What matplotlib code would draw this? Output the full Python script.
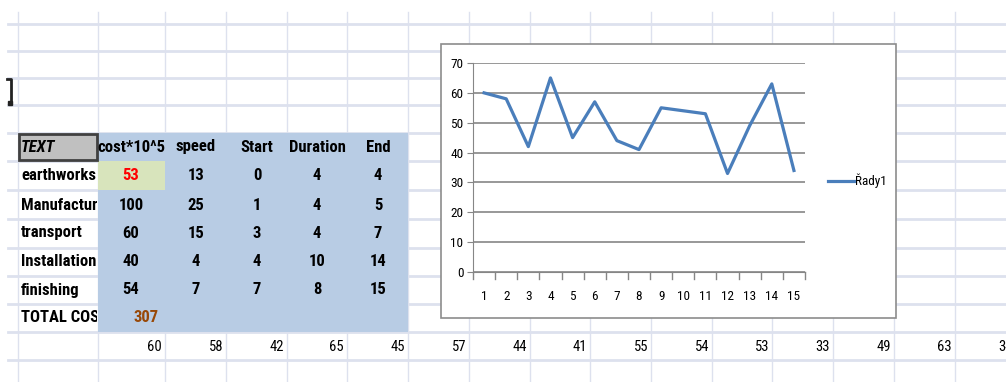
import matplotlib
matplotlib.use("Agg")
import matplotlib.pyplot as plt
from matplotlib.patches import Rectangle
from matplotlib import font_manager

# pick a narrow font if one is around
names = {f.name for f in font_manager.fontManager.ttflist}
narrow = "DejaVu Sans"
for cand in ["Liberation Sans Narrow", "Roboto Condensed", "DejaVu Sans Condensed", "Open Sans Condensed", "Lato"]:
    if cand in names:
        narrow = cand
        break

# table data
header = ["cost*10^5", "speed", "Start", "Duration", "End"]
tasks = ["earthworks", "Manufactur", "transport", "Installation", "finishing"]
cost = [53, 100, 60, 40, 54]
speed = [13, 25, 15, 4, 7]
start = [0, 1, 3, 4, 7]
duration = [4, 4, 4, 10, 8]
end = [4, 5, 7, 14, 15]
total_cost = 307

# chart series
x_vals = list(range(1, 16))
series = [60, 58, 42, 65, 45, 57, 44, 41, 55, 54, 53, 33, 49, 63, 34]

W, H = 1006, 382
fig = plt.figure(figsize=(W / 100, H / 100), dpi=100)
bg = fig.add_axes([0, 0, 1, 1])
bg.set_xlim(0, W)
bg.set_ylim(H, 0)
bg.axis("off")

gridc = "#dde1ee"
col_x = [18, 98, 165, 226, 287, 347, 408, 469, 530, 590, 651, 712, 772, 833, 894, 955, 1016]
row_y = [24, 51, 78, 105, 133, 161, 190, 219, 248, 276, 304, 332, 360]

for x in col_x:
    bg.plot([x, x], [12, H], color=gridc, lw=1, zorder=1)
for y in row_y:
    bg.plot([8, W], [y, y], color=gridc, lw=2, zorder=1)

# cell cursor bracket at the left
bg.plot([7, 11, 11], [79, 79, 103], color="#222222", lw=2, zorder=3)
bg.add_patch(Rectangle((8, 101), 4, 4, color="#222222", zorder=3))

# blue data block
bg.add_patch(Rectangle((98, 133), 408 - 98, 332 - 133, facecolor="#b8cce4", edgecolor="none", zorder=2))
bg.add_patch(Rectangle((98, 161), 67, 29, facecolor="#d8e4bc", edgecolor="none", zorder=2))
bg.add_patch(Rectangle((19, 134), 78, 26, facecolor="#c0c0c0", edgecolor="#404040", lw=2, zorder=3))

fs = 12
tfont = dict(family=narrow, fontsize=fs, fontweight="bold", color="black", zorder=4)
centers = [131, 196, 257, 317, 378]
row_c = [147, 176, 205, 233, 262, 290, 318]


def label_cell(y, s):
    # first column text, cut at the cell border like the sheet does
    t = bg.text(21, y, s, ha="left", va="center", clip_on=True, **tfont)
    t.set_clip_path(Rectangle((18, 0), 79, H, transform=bg.transData))
    return t


bg.text(21, row_c[0], "TEXT", ha="left", va="center", style="italic", **tfont)
for cx, h in zip(centers, header):
    bg.text(cx, row_c[0], h, ha="center", va="center", **tfont)

cols = [cost, speed, start, duration, end]
for i, name in enumerate(tasks):
    label_cell(row_c[i + 1], name)
    for j, col in enumerate(cols):
        c = "#ff0000" if (i == 0 and j == 0) else "black"
        kw = dict(tfont)
        kw["color"] = c
        bg.text(centers[j], row_c[i + 1], str(col[i]), ha="center", va="center", **kw)

label_cell(row_c[6], "TOTAL COST")
kw = dict(tfont)
kw["color"] = "#984807"
bg.text(146, row_c[6], str(total_cost), ha="center", va="center", **kw)

# the chart source row under the table
for k, v in enumerate(series):
    bg.text(col_x[k + 2] - 3, 347, str(v), ha="right", va="center", family=narrow, fontsize=10.5, zorder=4)

# chart frame
bg.add_patch(Rectangle((441, 44), 896 - 441, 318 - 44, facecolor="white", edgecolor="#8c8c8c", lw=1.2, zorder=5))

ax = fig.add_axes([473 / W, 1 - 272 / H, (805 - 473) / W, (272 - 63) / H])
ax.set_zorder(6)
ax.patch.set_alpha(0)
ln, = ax.plot(x_vals, series, color="#4a7ebb", lw=2.3, label="Řady1")
ax.set_xlim(0.5, 15.5)
ax.set_ylim(0, 70)
ax.set_yticks(range(0, 71, 10))
ax.set_xticks(x_vals)
ax.yaxis.grid(True, color="#868686", lw=1.2)
ax.set_axisbelow(True)
for s in ["top", "right"]:
    ax.spines[s].set_visible(False)
ax.spines["left"].set_color("#868686")
ax.spines["bottom"].set_color("#868686")
ax.tick_params(axis="y", length=4, color="#868686", labelsize=9.5, pad=3)
ax.tick_params(axis="x", length=0, labelsize=9.5, pad=13)
for lab in ax.get_xticklabels() + ax.get_yticklabels():
    lab.set_family(narrow)
# tick marks between categories
for b in range(16):
    ax.plot([b + 0.5, b + 0.5], [0, -2.2], color="#868686", lw=1, clip_on=False)

fig.legend(handles=[ln], loc="center left", bbox_to_anchor=(821 / W, 1 - 181 / H),
           frameon=False, handlelength=2.0, handletextpad=0.05,
           borderpad=0, prop={"family": narrow, "size": 9.5})

fig.savefig("out.png", dpi=100)
